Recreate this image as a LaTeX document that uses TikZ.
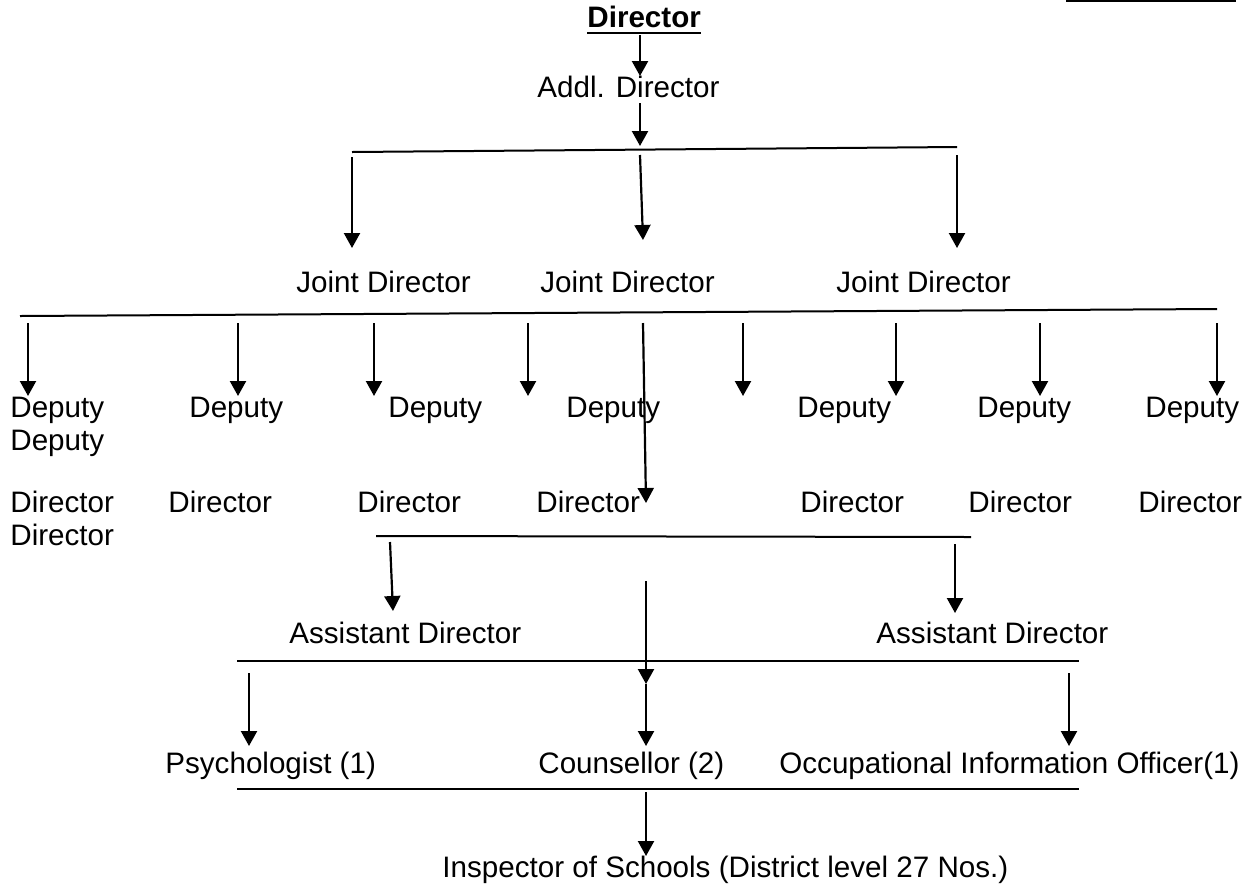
\documentclass[tikz,border=0pt]{standalone}
\usepackage{fontspec}
\setmainfont{Liberation Sans}
\usepackage{tikz}
\usetikzlibrary{positioning,arrows.meta}

\tikzset{
  lbl/.style={anchor=base west, inner sep=0pt, font=\fontsize{14.8}{17}\selectfont},
  bar/.style={line width=1pt},
  link/.style={line width=1.1pt, -{Triangle[length=7.5pt, width=8pt]}}
}

\begin{document}
\begin{tikzpicture}[x=0.5pt, y=-0.5pt]
\useasboundingbox (0,0) rectangle (1248,885);

% top right rule
\coordinate (tr1) at (1066,1);
\coordinate (tr2) at (1236,1);
\draw[line width=1.4pt] (tr1) -- (tr2);

% Director and Addl. Director
\node[lbl, font=\fontsize{14.8}{17}\selectfont\bfseries] (dir) at (587,27) {Director};
\draw[line width=1.2pt] ([yshift=-3pt]dir.base west) -- ([yshift=-3pt]dir.base east);
\node[lbl] (addl) at (537,97) {Addl. Director};
\coordinate (a1t) at (640,35);
\coordinate (a1h) at (640,76);
\coordinate (a2t) at (640,103);
\coordinate (a2h) at (640,146);
\draw[link] (a1t) -- (a1h);
\draw[link] (a2t) -- (a2h);

% Joint Director nodes
\coordinate (b1a) at (352,152);
\coordinate (b1b) at (957,147);
\draw[bar] (b1a) -- (b1b);
\node[lbl] (jd1) at (296,292) {Joint Director};
\node[lbl] (jd2) at (540,292) {Joint Director};
\node[lbl] (jd3) at (836,292) {Joint Director};
\coordinate (j1t) at (352,157);
\coordinate (j1h) at (352,248);
\coordinate (j2t) at (640,155);
\coordinate (j2h) at (643,240);
\coordinate (j3t) at (957,155);
\coordinate (j3h) at (957,248);
\draw[link] (j1t) -- (j1h);
\draw[link] (j2t) -- (j2h);
\draw[link] (j3t) -- (j3h);

% Deputy Director nodes
\coordinate (b2a) at (20,316);
\coordinate (b2b) at (1217,309);
\draw[bar] (b2a) -- (b2b);
\foreach \x [count=\i] in {28,238,374,528,743,896,1040,1217} {
  \coordinate (d\i t) at (\x,323);
  \coordinate (d\i h) at (\x,396);
  \draw[link] (d\i t) -- (d\i h);
}
\foreach \x [count=\i] in {10,189,388,566,797,977,1145}
  \node[lbl] (dep\i) at (\x,417) {Deputy};
\foreach \x [count=\i] in {10,168,357,536,800,968,1138}
  \node[lbl] (ddir\i) at (\x,512) {Director};
\node[lbl] (dep1b) at (10,450) {Deputy};
\node[lbl] (ddir1b) at (10,545) {Director};
\coordinate (lt) at (643,323);
\coordinate (lh) at (646,503);
\draw[link] (lt) -- (lh);

% Assistant Director nodes
\coordinate (b3a) at (376,536);
\coordinate (b3b) at (971,537);
\draw[bar] (b3a) -- (b3b);
\node[lbl] (ad1) at (289,643) {Assistant Director};
\node[lbl] (ad2) at (876,643) {Assistant Director};
\coordinate (s1t) at (390,542);
\coordinate (s1h) at (393,611);
\coordinate (s2t) at (955,544);
\coordinate (s2h) at (955,613);
\draw[link] (s1t) -- (s1h);
\draw[link] (s2t) -- (s2h);

% Psychologist, Counsellor, Officer
\coordinate (b4a) at (237,661);
\coordinate (b4b) at (1079,661);
\draw[bar] (b4a) -- (b4b);
\node[lbl] (psy) at (165,773) {Psychologist (1)};
\node[lbl] (cou) at (538,773) {Counsellor (2)};
\node[lbl] (oio) at (779,773) {Occupational Information Officer(1)};
\coordinate (p1t) at (249,673);
\coordinate (p1h) at (249,746);
\coordinate (p3t) at (1069,673);
\coordinate (p3h) at (1069,746);
\coordinate (c1) at (646,581);
\coordinate (c2) at (646,684);
\coordinate (c3) at (646,746);
\draw[link] (p1t) -- (p1h);
\draw[link] (p3t) -- (p3h);
\draw[link] (c1) -- (c2);
\draw[link] (c2) -- (c3);

% Inspector of Schools
\coordinate (b5a) at (237,789);
\coordinate (b5b) at (1079,789);
\draw[bar] (b5a) -- (b5b);
\node[lbl] (insp) at (442,877) {Inspector of Schools (District level 27 Nos.)};
\coordinate (i1t) at (646,792);
\coordinate (i1h) at (646,856);
\draw[link] (i1t) -- (i1h);
\end{tikzpicture}
\end{document}
